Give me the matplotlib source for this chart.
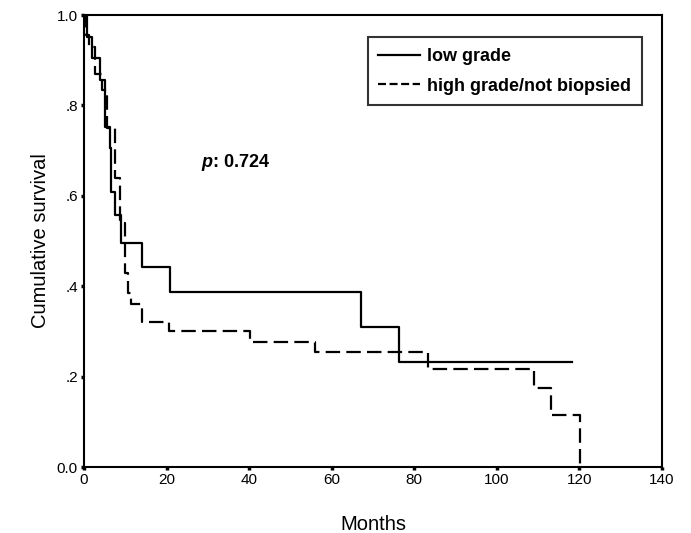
import matplotlib
matplotlib.use("Agg")
import matplotlib.pyplot as plt

# --- DATA ---
low_t = [0, 0.7, 1.9, 3.9, 5.1, 6.2, 6.5, 7.6, 8.9, 14.0, 20.8, 67.2, 76.4, 118.2]
low_s = [1.0, 0.952, 0.905, 0.857, 0.752, 0.705, 0.609, 0.557, 0.495, 0.443, 0.387, 0.31, 0.232, 0.232]

high_t = [0, 0.5, 1.2, 2.7, 4.4, 5.5, 7.6, 8.8, 9.9, 10.6, 11.3, 14.1, 20.6, 40.1, 56.0, 83.2, 109.1, 113.1, 120.2]
high_s = [1.0, 0.955, 0.93, 0.87, 0.835, 0.75, 0.64, 0.54, 0.43, 0.385, 0.36, 0.32, 0.30, 0.276, 0.254, 0.217, 0.175, 0.115, 0.0]

x_ticks = [0, 20, 40, 60, 80, 100, 120, 140]
y_ticks = [0.0, 0.2, 0.4, 0.6, 0.8, 1.0]
y_tick_labels = ["0.0", ".2", ".4", ".6", ".8", "1.0"]

plt.rcParams["font.family"] = ["Liberation Sans", "DejaVu Sans"]
plt.rcParams["mathtext.fontset"] = "custom"
plt.rcParams["mathtext.it"] = "Liberation Sans:italic:bold"

fig = plt.figure(figsize=(6.91, 5.33), dpi=100)
ax = fig.add_axes([0.1216, 0.1238, 0.8365, 0.848])

ax.step(low_t, low_s, where="post", color="black", linewidth=1.6, label="low grade")
ax.step(high_t, high_s, where="post", color="black", linewidth=1.6,
        linestyle=(0, (6.5, 2.8)), label="high grade/not biopsied")

ax.set_xlim(0, 140)
ax.set_ylim(0, 1.0)
ax.set_xticks(x_ticks)
ax.set_yticks(y_ticks)
ax.set_yticklabels(y_tick_labels)
ax.tick_params(direction="out", length=2.5, width=2.5, labelsize=11, pad=2)

for sp in ax.spines.values():
    sp.set_linewidth(1.5)
    sp.set_color("black")

ax.set_xlabel("Months", fontsize=14.5, labelpad=20)
ax.set_ylabel("Cumulative survival", fontsize=14.5, labelpad=5)

ax.text(28.3, 0.673, r"$p$: 0.724", fontsize=13, fontweight="bold", va="center")

# legend with dashed handle showing three dashes
leg = ax.legend(loc="upper right", bbox_to_anchor=(0.9654, 0.951), borderaxespad=0,
                frameon=True, fancybox=False, edgecolor="black",
                handlelength=2.3, handletextpad=0.4, labelspacing=0.7, borderpad=0.6,
                prop={"weight": "bold", "size": 13})
leg.get_frame().set_linewidth(1.5)
leg.get_lines()[1].set_linestyle((0, (3.6, 1.6)))

fig.savefig("out.png", dpi=100)
